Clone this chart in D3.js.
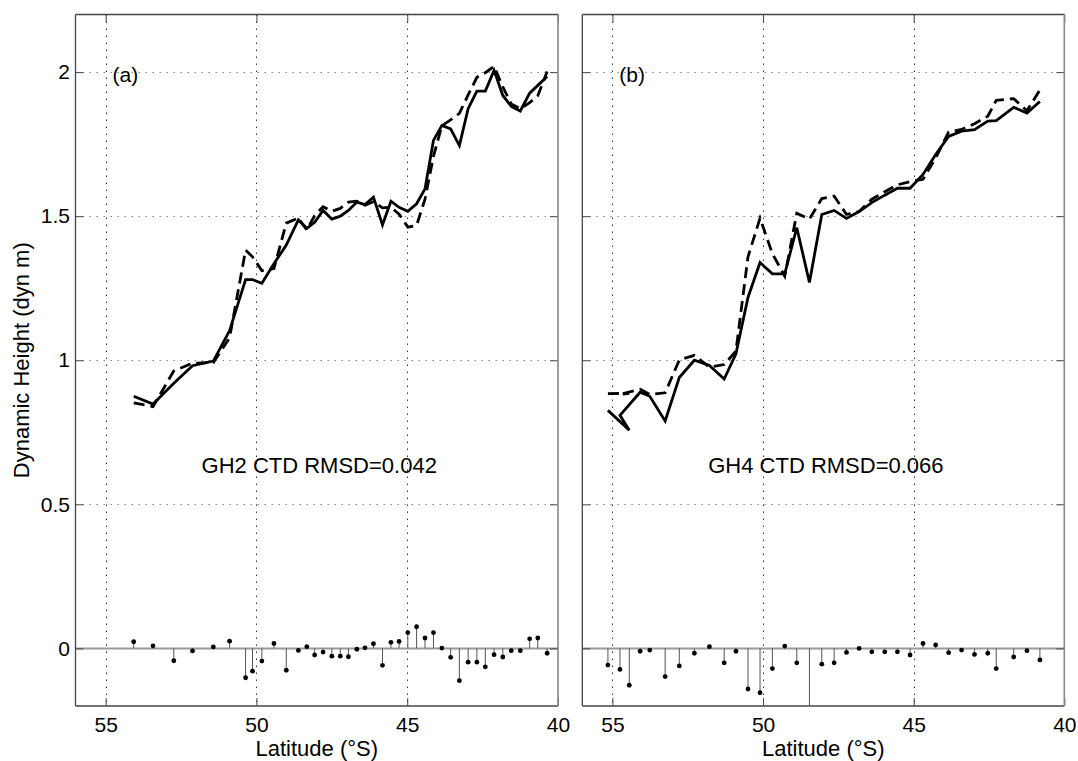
<!DOCTYPE html>
<html>
<head>
<meta charset="utf-8">
<script src="https://cdn.jsdelivr.net/npm/d3@7"></script>
<style>
  html, body { margin: 0; padding: 0; background: #fff; }
  svg { display: block; font-family: "Liberation Sans", Arial, Helvetica, sans-serif; }
</style>
</head>
<body>
<svg id="chart" width="1078" height="761"></svg>
<script>
// Station latitudes (°S) along each section, in track order
const latA = [54.07, 53.43, 52.74, 52.12, 51.43, 50.89, 50.36, 50.13, 49.82, 49.42, 49.01,
  48.61, 48.33, 48.07, 47.79, 47.50, 47.22, 46.95, 46.67, 46.40, 46.12, 45.82, 45.54, 45.27,
  44.98, 44.69, 44.41, 44.13, 43.85, 43.56, 43.27, 42.98, 42.69, 42.41, 42.12, 41.83, 41.55,
  41.25, 40.94, 40.67, 40.36];
// Dynamic height, solid curve (dyn m)
const ghA = [0.875, 0.848, 0.920, 0.981, 0.997, 1.103, 1.280, 1.280, 1.267, 1.335, 1.400,
  1.487, 1.458, 1.479, 1.520, 1.490, 1.500, 1.520, 1.549, 1.540, 1.566, 1.470, 1.552, 1.531,
  1.517, 1.543, 1.595, 1.763, 1.815, 1.803, 1.745, 1.873, 1.934, 1.934, 2.006, 1.919, 1.881,
  1.865, 1.927, 1.954, 1.985];
// Dynamic height, dashed curve (dyn m)
const ctdA = [0.852, 0.839, 0.963, 0.990, 0.992, 1.078, 1.382, 1.359, 1.311, 1.318, 1.476,
  1.494, 1.452, 1.502, 1.533, 1.517, 1.527, 1.549, 1.552, 1.538, 1.550, 1.529, 1.531, 1.507,
  1.462, 1.468, 1.559, 1.708, 1.814, 1.834, 1.857, 1.921, 1.982, 1.998, 2.020, 1.949, 1.889,
  1.873, 1.894, 1.918, 2.002];
// Difference between the two curves at each station
const diffA = [0.023, 0.009, -0.043, -0.009, 0.005, 0.025, -0.102, -0.079, -0.044, 0.017, -0.076,
  -0.007, 0.006, -0.023, -0.013, -0.027, -0.027, -0.029, -0.003, 0.002, 0.016, -0.059, 0.021, 0.024,
  0.055, 0.075, 0.036, 0.055, 0.001, -0.031, -0.112, -0.048, -0.048, -0.064, -0.022, -0.030, -0.008,
  -0.008, 0.033, 0.036, -0.017];

const latB = [55.15, 54.44, 54.75, 54.08, 53.76, 53.25, 52.78, 52.28, 51.78, 51.29, 50.90,
  50.50, 50.10, 49.69, 49.28, 48.88, 48.46, 48.05, 47.64, 47.23, 46.81, 46.39, 45.96, 45.54,
  45.12, 44.69, 44.27, 43.84, 43.41, 42.98, 42.54, 42.26, 41.68, 41.24, 40.81];
const ghB = [0.826, 0.757, 0.809, 0.889, 0.875, 0.789, 0.940, 1.000, 0.982, 0.935, 1.022,
  1.218, 1.339, 1.300, 1.300, 1.460, 1.270, 1.506, 1.520, 1.492, 1.516, 1.547, 1.573, 1.597,
  1.597, 1.645, 1.714, 1.777, 1.795, 1.800, 1.830, 1.832, 1.878, 1.858, 1.898];
const ctdB = [0.884, 0.885, 0.882, 0.899, 0.881, 0.887, 1.001, 1.017, 0.976, 0.985, 1.032,
  1.359, 1.493, 1.370, 1.292, 1.510, 1.490, 1.561, 1.570, 1.506, 1.516, 1.559, 1.585, 1.609,
  1.620, 1.628, 1.702, 1.792, 1.801, 1.821, 1.847, 1.902, 1.908, 1.866, 1.938];
const diffB = [-0.058, -0.128, -0.073, -0.010, -0.006, -0.098, -0.061, -0.017, 0.006, -0.050, -0.010,
  -0.141, -0.154, -0.070, 0.008, -0.050, -0.220, -0.055, -0.050, -0.014, 0.000, -0.012, -0.012, -0.012,
  -0.023, 0.017, 0.012, -0.015, -0.006, -0.021, -0.017, -0.070, -0.030, -0.008, -0.040];

const xTicks = [55, 50, 45, 40];
const xTickLabels = ["55", "50", "45", "40"];
const yTicks = [0, 0.5, 1, 1.5, 2];
const yTickLabels = ["0", "0.5", "1", "1.5", "2"];
const latDomain = [56, 40];
const heightDomain = [-0.2, 2.2];

const panels = [
  { id: "a", tag: "(a)", note: "GH2 CTD RMSD=0.042", lat: latA, solid: ghA, dashed: ctdA, diff: diffA,
    left: 75.5, right: 558, yLabels: true },
  { id: "b", tag: "(b)", note: "GH4 CTD RMSD=0.066", lat: latB, solid: ghB, dashed: ctdB, diff: diffB,
    left: 582.3, right: 1064.3, yLabels: false }
];

const plotTop = 14.5, plotBottom = 706;
const svg = d3.select("#chart");
svg.append("rect").attr("width", 1078).attr("height", 761).attr("fill", "#fff");

const y = d3.scaleLinear().domain(heightDomain).range([plotBottom, plotTop]);

panels.forEach(p => {
  const x = d3.scaleLinear().domain(latDomain).range([p.left, p.right]);
  const g = svg.append("g");
  const w = p.right - p.left, h = plotBottom - plotTop;

  svg.append("clipPath").attr("id", "clip-" + p.id)
    .append("rect").attr("x", p.left).attr("y", plotTop).attr("width", w).attr("height", h);

  // dotted grid
  const grid = g.append("g");
  grid.selectAll("line.gx").data(xTicks.filter(d => d !== latDomain[1])).join("line")
    .attr("x1", d => Math.round(x(d)) + 0.5).attr("x2", d => Math.round(x(d)) + 0.5)
    .attr("y1", plotTop).attr("y2", plotBottom)
    .attr("stroke", "#333").attr("stroke-width", 1).attr("stroke-dasharray", "1.5,5.5");
  grid.selectAll("line.gy").data(yTicks.filter(d => d !== 0)).join("line")
    .attr("x1", p.left).attr("x2", p.right)
    .attr("y1", d => Math.round(y(d)) + 0.5).attr("y2", d => Math.round(y(d)) + 0.5)
    .attr("stroke", "#888").attr("stroke-width", 1.2).attr("stroke-dasharray", "1.5,5.5");

  const plot = g.append("g").attr("clip-path", "url(#clip-" + p.id + ")");

  // stem baseline
  plot.append("line")
    .attr("x1", p.left).attr("x2", p.right)
    .attr("y1", y(0)).attr("y2", y(0))
    .attr("stroke", "#9a9a9a").attr("stroke-width", 2);

  // stems
  const stems = p.lat.map((lat, i) => ({ lat, v: p.diff[i] }));
  plot.selectAll("line.stem").data(stems).join("line")
    .attr("x1", d => x(d.lat)).attr("x2", d => x(d.lat))
    .attr("y1", y(0)).attr("y2", d => y(d.v))
    .attr("stroke", "#555").attr("stroke-width", 1);
  plot.selectAll("circle.stem").data(stems.filter(d => d.v >= heightDomain[0])).join("circle")
    .attr("cx", d => x(d.lat)).attr("cy", d => y(d.v)).attr("r", 2.4)
    .attr("fill", "#000");

  // height curves
  const line = d3.line().x(d => x(d[0])).y(d => y(d[1]));
  plot.append("path")
    .attr("d", line(p.lat.map((lat, i) => [lat, p.dashed[i]])))
    .attr("fill", "none").attr("stroke", "#000").attr("stroke-width", 2.8)
    .attr("stroke-dasharray", "11,6").attr("stroke-linejoin", "miter").attr("stroke-miterlimit", 4);
  plot.append("path")
    .attr("d", line(p.lat.map((lat, i) => [lat, p.solid[i]])))
    .attr("fill", "none").attr("stroke", "#000").attr("stroke-width", 2.8)
    .attr("stroke-linejoin", "miter").attr("stroke-miterlimit", 4);

  // axes with inward ticks
  const fontSize = 21;
  const xb = g.append("g").attr("transform", `translate(0,${plotBottom})`)
    .call(d3.axisBottom(x).tickValues(xTicks)
      .tickFormat((d, i) => xTickLabels[i])
      .tickSizeInner(-8).tickSizeOuter(0).tickPadding(10.8));
  const xt = g.append("g").attr("transform", `translate(0,${plotTop})`)
    .call(d3.axisTop(x).tickValues(xTicks).tickFormat("").tickSizeInner(-8).tickSizeOuter(0));
  const yl = g.append("g").attr("transform", `translate(${p.left},0)`)
    .call(d3.axisLeft(y).tickValues(yTicks)
      .tickFormat((d, i) => p.yLabels ? yTickLabels[i] : "")
      .tickSizeInner(-8).tickSizeOuter(0).tickPadding(5.5));
  const yr = g.append("g").attr("transform", `translate(${p.right},0)`)
    .call(d3.axisRight(y).tickValues(yTicks).tickFormat("").tickSizeInner(-8).tickSizeOuter(0));
  [xb, xt, yl, yr].forEach(a => {
    a.select(".domain").remove();
    a.selectAll(".tick line").attr("stroke", "#444").attr("stroke-width", 1);
    a.selectAll("text").attr("fill", "#000").style("font-size", fontSize + "px")
      .style("font-family", '"Liberation Sans", Arial, sans-serif');
  });

  // frame
  g.append("line").attr("x1", p.left).attr("x2", p.right).attr("y1", plotTop).attr("y2", plotTop)
    .attr("stroke", "#444").attr("stroke-width", 1.3);
  g.append("line").attr("x1", p.left).attr("x2", p.right).attr("y1", plotBottom).attr("y2", plotBottom)
    .attr("stroke", "#444").attr("stroke-width", 1.3);
  g.append("line").attr("x1", p.left).attr("x2", p.left).attr("y1", plotTop).attr("y2", plotBottom)
    .attr("stroke", "#444").attr("stroke-width", 1.3);
  g.append("line").attr("x1", p.right).attr("x2", p.right).attr("y1", plotTop).attr("y2", plotBottom)
    .attr("stroke", "#888").attr("stroke-width", 1.6);

  // panel tag and annotation
  g.append("text").attr("x", p.left + 37).attr("y", 82)
    .style("font-size", "21px").text(p.tag);
  g.append("text").attr("x", x(51.82)).attr("y", 473)
    .style("font-size", "22px").text(p.note);

  // x axis title
  g.append("text").attr("x", (p.left + p.right) / 2).attr("y", 756)
    .attr("text-anchor", "middle").style("font-size", "22px").text("Latitude (°S)");
});

// y axis title
svg.append("text")
  .attr("transform", `translate(29,${(plotTop + plotBottom) / 2}) rotate(-90)`)
  .attr("text-anchor", "middle").style("font-size", "22px")
  .text("Dynamic Height (dyn m)");
</script>
</body>
</html>
